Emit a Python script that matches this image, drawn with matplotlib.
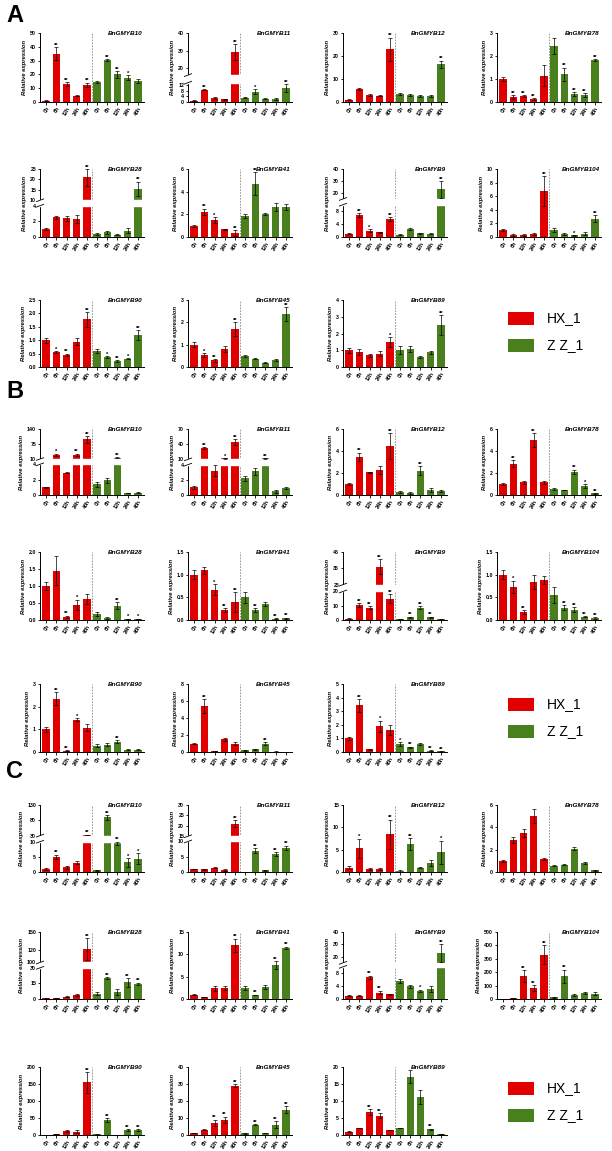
import numpy as np
import matplotlib
matplotlib.use('Agg')
import matplotlib.pyplot as plt
from matplotlib.patches import Rectangle

plt.rcParams['font.family'] = ['Liberation Sans', 'DejaVu Sans']

red = '#e00000'
green = '#4a7f1e'

times = ['0h', '6h', '12h', '24h', '48h']
genes = ['BnGMYB10', 'BnGMYB11', 'BnGMYB12', 'BnGMYB78', 'BnGMYB28', 'BnGMYB41',
         'BnGMYB9', 'BnGMYB104', 'BnGMYB90', 'BnGMYB45', 'BnGMYB89']

# ---------------- panel A ----------------
A_hx = [[1, 35, 13, 4.5, 12.5], [1, 9, 3, 2, 29], [1, 5.8, 3, 2.8, 23], [1, 0.22, 0.25, 0.12, 1.15],
        [1, 2.5, 2.4, 2.3, 21], [1, 2.2, 1.5, 0.7, 0.35], [1, 6.8, 2, 1.4, 5.5], [1, 0.3, 0.3, 0.45, 6.8],
        [1, 0.55, 0.45, 0.95, 1.78], [1, 0.55, 0.3, 0.8, 1.7], [1, 0.92, 0.7, 0.8, 1.48]]
A_hx_err = [[0.3, 4.5, 1.2, 0.5, 1.5], [0.2, 0.5, 0.5, 0.5, 4.5], [0.3, 0.5, 0.4, 0.4, 5], [0.1, 0.08, 0.05, 0.04, 0.45],
            [0.1, 0.2, 0.3, 0.5, 4], [0.1, 0.3, 0.25, 0.05, 0.25], [0.2, 0.7, 0.5, 0.2, 0.7], [0.15, 0.1, 0.1, 0.1, 2.2],
            [0.1, 0.03, 0.05, 0.12, 0.28], [0.1, 0.08, 0.06, 0.12, 0.3], [0.15, 0.18, 0.1, 0.15, 0.3]]
A_zz = [[14.5, 30.5, 20, 17.5, 15], [3.2, 7.5, 2.5, 2, 10], [3.5, 3, 2.5, 2.5, 16.5], [2.45, 1.2, 0.35, 0.3, 1.83],
        [0.35, 0.6, 0.3, 0.8, 15.5], [1.85, 4.7, 2.05, 2.65, 2.65], [0.7, 2.5, 1.1, 1, 23], [1, 0.45, 0.25, 0.5, 2.7],
        [0.6, 0.37, 0.22, 0.3, 1.2], [0.5, 0.38, 0.2, 0.3, 2.37], [1, 1.05, 0.58, 0.88, 2.5]]
A_zz_err = [[0.5, 0.8, 2.5, 1.8, 1.5], [0.5, 1.8, 0.3, 0.8, 3], [0.6, 0.3, 0.5, 0.4, 1.5], [0.35, 0.3, 0.08, 0.08, 0.03],
            [0.1, 0.2, 0.05, 0.3, 3.5], [0.2, 1.0, 0.1, 0.35, 0.3], [0.1, 0.2, 0.1, 0.1, 7], [0.3, 0.1, 0.05, 0.2, 0.5],
            [0.07, 0.05, 0.04, 0.02, 0.18], [0.05, 0.04, 0.02, 0.04, 0.3], [0.25, 0.18, 0.05, 0.08, 0.6]]
A_hx_sig = [['', '**', '**', '', '**'], ['', '**', '', '', '**'], ['', '', '', '', '**'], ['', '**', '**', '**', ''],
            ['', '', '', '', '**'], ['', '**', '*', '', '**'], ['', '**', '*', '', '**'], ['', '', '', '', '**'],
            ['', '*', '**', '', '**'], ['', '*', '**', '', '**'], ['', '', '', '', '*']]
A_zz_sig = [['', '**', '**', '*', ''], ['', '*', '', '', '**'], ['', '', '', '', '**'], ['', '**', '**', '**', '**'],
            ['', '', '', '', '**'], ['', '**', '', '', ''], ['', '', '', '', '**'], ['', '', '*', '', '**'],
            ['', '*', '**', '*', '**'], ['', '', '', '', '**'], ['', '', '', '', '**']]
A_ticks = [[0, 10, 20, 30, 40, 50], [0, 4, 8, 12, 20, 30, 40], [0, 10, 20, 30], [0, 1, 2, 3],
           [0, 2, 4, 10, 15, 20, 25], [0, 2, 4, 6], [0, 4, 8, 20, 30, 40], [0, 2, 4, 6, 8, 10],
           [0, 0.5, 1.0, 1.5, 2.0, 2.5], [0, 1, 2, 3], [0, 1, 2, 3, 4]]
# axis breaks: index -> (low end, high start, fraction low end, fraction high start)
A_breaks = {1: (14, 16, 0.28, 0.39), 4: (4, 10, 0.46, 0.54), 6: (10, 15, 0.475, 0.56)}

# ---------------- panel B ----------------
B_hx = [[1, 28, 2.9, 28, 95], [1, 32, 3.2, 12, 44], [1, 3.45, 2.05, 2.3, 4.45], [1, 2.85, 1.15, 5, 1.15],
        [1, 1.45, 0.1, 0.45, 0.62], [1, 1.1, 0.67, 0.22, 0.4], [1, 10.5, 8.5, 36, 15], [1, 0.73, 0.18, 0.84, 0.88],
        [1, 2.35, 0.05, 1.43, 1.07], [1, 5.4, 0.1, 1.5, 1.0], [1, 3.42, 0.2, 1.9, 1.6]]
B_hx_err = [[0.1, 5, 0.05, 5, 15], [0.15, 1.5, 0.7, 0.5, 6], [0.1, 0.4, 0.03, 0.35, 1.2], [0.1, 0.3, 0.15, 0.6, 0.15],
            [0.12, 0.42, 0.03, 0.15, 0.15], [0.1, 0.08, 0.12, 0.04, 0.22], [0.2, 1.2, 1, 4.5, 3], [0.1, 0.14, 0.04, 0.15, 0.09],
            [0.1, 0.28, 0.02, 0.07, 0.15], [0.1, 0.8, 0.02, 0.15, 0.2], [0.12, 0.45, 0.05, 0.4, 0.35]]
B_zz = [[1.4, 1.9, 16, 0.25, 0.3], [2.2, 3.1, 12, 0.5, 0.9], [0.3, 0.2, 2.2, 0.45, 0.35], [0.55, 0.45, 2.1, 0.8, 0.15],
        [0.18, 0.06, 0.42, 0.03, 0.03], [0.5, 0.22, 0.35, 0.03, 0.04], [0.5, 2, 8.5, 2, 0.5], [0.55, 0.27, 0.23, 0.07, 0.05],
        [0.28, 0.33, 0.45, 0.1, 0.1], [0.2, 0.3, 1.0, 0.05, 0.03], [0.6, 0.35, 0.6, 0.1, 0.05]]
B_zz_err = [[0.35, 0.35, 2, 0.05, 0.1], [0.3, 0.5, 1, 0.2, 0.15], [0.1, 0.1, 0.4, 0.15, 0.1], [0.05, 0.03, 0.2, 0.2, 0.05],
            [0.07, 0.02, 0.1, 0.01, 0.01], [0.12, 0.05, 0.05, 0.01, 0.01], [0.1, 0.4, 1, 0.4, 0.1], [0.18, 0.06, 0.05, 0.01, 0.02],
            [0.08, 0.08, 0.07, 0.02, 0.02], [0.05, 0.05, 0.2, 0.01, 0.01], [0.15, 0.05, 0.05, 0.02, 0.02]]
B_hx_sig = [['', '*', '', '**', '**'], ['', '**', '', '*', '**'], ['', '**', '', '', '**'], ['', '**', '', '**', ''],
            ['', '', '**', '*', ''], ['', '', '*', '**', '**'], ['', '**', '**', '**', '**'], ['', '*', '**', '', ''],
            ['', '**', '**', '*', ''], ['', '**', '', '', ''], ['', '**', '', '*', '']]
B_zz_sig = [['', '', '**', '', ''], ['', '', '**', '', ''], ['', '', '**', '', ''], ['', '', '**', '*', '**'],
            ['', '', '**', '*', '*'], ['', '**', '', '**', '**'], ['', '**', '**', '**', ''], ['', '**', '**', '**', '**'],
            ['', '', '**', '', ''], ['', '', '**', '', ''], ['*', '**', '', '**', '**']]
B_ticks = [[0, 2, 4, 10, 75, 140], [0, 2, 4, 10, 40, 70], [0, 2, 4, 6], [0, 2, 4, 6],
           [0, 0.5, 1.0, 1.5, 2.0], [0, 0.5, 1.0, 1.5], [0, 10, 20, 25, 35, 45], [0, 0.5, 1.0, 1.5],
           [0, 1, 2, 3], [0, 2, 4, 6, 8], [0, 1, 2, 3, 4, 5]]
B_breaks = {0: (4, 10, 0.465, 0.545), 1: (4, 10, 0.46, 0.54), 6: (20, 25, 0.42, 0.52)}

# ---------------- panel C ----------------
C_hx = [[1, 5, 1.5, 3.1, 32], [1, 0.9, 1.4, 0.6, 21], [1, 5.3, 0.6, 0.7, 8.4], [1, 2.85, 3.5, 5, 1.15],
        [0.5, 0.7, 2, 4, 122], [1, 0.4, 2.4, 2.5, 12], [1, 1, 6.8, 2, 1.4], [1, 5, 172, 83, 330],
        [0.5, 3, 11, 10, 155], [1, 3.1, 7.2, 8.8, 29], [1, 2.1, 6.8, 5.7, 1.5]]
C_hx_err = [[0.2, 0.7, 0.4, 0.5, 1], [0.1, 0.1, 0.1, 0.3, 1.8], [0.3, 2.2, 0.2, 0.3, 3.3], [0.1, 0.25, 0.35, 0.6, 0.12],
            [0.2, 0.2, 0.5, 0.8, 18], [0.1, 0.05, 0.5, 0.5, 1.5], [0.2, 0.1, 0.5, 0.6, 0.1], [0.5, 2, 45, 20, 70],
            [0.2, 1, 3, 4, 30], [0.1, 0.4, 1.8, 2, 1], [0.1, 0.1, 0.8, 0.7, 0.1]]
C_zz = [[0.5, 90, 9.5, 3.2, 4.4], [0.05, 7, 0.5, 5.9, 7.9], [0.3, 6.3, 1, 2, 4.4], [0.55, 0.65, 2.1, 0.8, 0.15],
        [5, 20, 6.5, 16, 14.5], [2.4, 0.9, 2.7, 7.6, 11.4], [5.6, 4, 2.6, 3.2, 23], [12, 170, 30, 45, 40],
        [1.5, 43, 1, 15, 15], [0.9, 6.1, 1.1, 6.1, 15], [2.1, 17.2, 11.2, 1.7, 0.2]]
C_zz_err = [[0.1, 8, 0.5, 1.5, 1.8], [0, 0.7, 0.1, 0.5, 0.7], [0.2, 1.3, 0.05, 0.7, 2.6], [0.05, 0.06, 0.15, 0.12, 0.05],
            [1.5, 1, 3, 4, 1.2], [0.4, 0.1, 0.4, 0.8, 0.3], [0.7, 0.5, 0.3, 0.9, 7], [3, 50, 8, 10, 10],
            [0.3, 6, 0.2, 3, 3], [0.2, 0.5, 0.2, 2, 2.2], [0.1, 1.8, 2, 0.2, 0.05]]
C_hx_sig = [['', '**', '', '', '**'], ['', '', '', '', '**'], ['', '*', '', '', '**'], ['', '', '', '', ''],
            ['', '', '', '', '**'], ['', '', '', '', '**'], ['', '', '**', '**', ''], ['', '', '**', '**', '**'],
            ['', '', '', '', '**'], ['', '', '**', '**', '**'], ['', '', '**', '**', '']]
C_zz_sig = [['', '**', '**', '*', '*'], ['', '**', '', '**', '**'], ['', '**', '', '', '*'], ['', '', '', '', ''],
            ['', '**', '', '**', '**'], ['', '**', '', '**', '**'], ['', '', '*', '', '**'], ['', '**', '', '', ''],
            ['', '**', '', '**', '**'], ['', '**', '', '**', '**'], ['', '', '', '**', '']]
C_ticks = [[0, 5, 10, 30, 80, 130], [0, 5, 10, 15, 20, 25, 30], [0, 5, 10, 15], [0, 2, 4, 6],
           [0, 15, 30, 100, 120, 150], [0, 5, 10, 15], [0, 4, 8, 20, 30, 40], [0, 100, 200, 300, 400, 500],
           [0, 50, 100, 150, 200], [0, 10, 20, 30, 40], [0, 5, 10, 15, 20]]
C_breaks = {0: (10, 30, 0.452, 0.543), 1: (10, 15, 0.456, 0.534), 4: (30, 100, 0.465, 0.545), 6: (10, 15, 0.48, 0.54)}

# ---------------- layout (pixels) ----------------
W, H = 612, 1151
col_left = [40, 188, 343, 497]
col_width = 104
row_span = {'A': [(33, 102), (169, 237), (300, 367)],
            'B': [(429, 495), (552, 620), (684, 752)],
            'C': [(805, 872), (932, 999), (1067, 1135)]}
label_y = {'A': 15, 'B': 391, 'C': 771}
legend_y = {'A': 312, 'B': 698, 'C': 1082}


def piecewise(xp, fp):
    xp = np.asarray(xp, float)
    fp = np.asarray(fp, float)

    def f(v):
        v = np.asarray(v, dtype=float)
        out = np.interp(v, xp, fp)
        lo_slope = (fp[1] - fp[0]) / (xp[1] - xp[0])
        hi_slope = (fp[-1] - fp[-2]) / (xp[-1] - xp[-2])
        out = np.where(v < xp[0], fp[0] + (v - xp[0]) * lo_slope, out)
        out = np.where(v > xp[-1], fp[-1] + (v - xp[-1]) * hi_slope, out)
        return out
    return f


def draw_gene(ax, gene, hx, hx_err, zz, zz_err, hx_sig, zz_sig, ticks, brk):
    top = ticks[-1]
    if brk is not None:
        b1, b2, f1, f2 = brk
        xp, fp = [0, b1, b2, top], [0, f1, f2, 1]
        ax.set_yscale('function', functions=(piecewise(xp, fp), piecewise(fp, xp)))
    x = np.arange(10)
    vals = list(hx) + list(zz)
    errs = list(hx_err) + list(zz_err)
    sigs = list(hx_sig) + list(zz_sig)
    colors = [red] * 5 + [green] * 5
    ax.bar(x, vals, width=0.72, color=colors, zorder=2)
    ax.errorbar(x, vals, yerr=errs, fmt='none', ecolor='black', elinewidth=0.5,
                capsize=1.2, capthick=0.5, zorder=4)
    for xi, v, e, s in zip(x, vals, errs, sigs):
        if s:
            ax.annotate(s, (xi, v + e), xytext=(0, -0.5), textcoords='offset points',
                        ha='center', va='bottom', fontsize=4.2, fontweight='bold', zorder=5)
    ax.axvline(4.5, color='#888888', lw=0.6, ls=(0, (2, 1.5)), zorder=1)
    ax.set_xlim(-0.6, 9.6)
    ax.set_ylim(0, top)
    ax.set_yticks(ticks)
    if any(t != int(t) for t in ticks):
        ax.set_yticklabels([f'{t:.1f}' for t in ticks])
    else:
        ax.set_yticklabels([str(int(t)) for t in ticks])
    ax.set_xticks(x)
    ax.set_xticklabels(times * 2, rotation=60, ha='right', rotation_mode='anchor')
    ax.tick_params(axis='both', labelsize=3.8, width=0.6, length=1.8, pad=1)
    for lab in ax.get_xticklabels() + ax.get_yticklabels():
        lab.set_fontweight('bold')
    for side in ['top', 'right']:
        ax.spines[side].set_visible(False)
    for side in ['left', 'bottom']:
        ax.spines[side].set_linewidth(0.7)
    ax.set_ylabel('Relative expression', fontsize=4.2, fontweight='bold', style='italic', labelpad=2)
    ax.text(0.99, 0.99, gene, transform=ax.transAxes, ha='right', va='center',
            fontsize=4.6, fontweight='bold', style='italic')
    if brk is not None:
        b1, b2, f1, f2 = brk
        ax.axhspan(b1, b2, xmin=-0.03, xmax=1.0, color='white', zorder=3, clip_on=False)
        for fy in (f1, f2):
            ax.plot([-0.035, 0.035], [fy - 0.02, fy + 0.02], transform=ax.transAxes,
                    color='black', lw=0.6, clip_on=False, zorder=6)


fig = plt.figure(figsize=(W / 100, H / 100), dpi=100)

panels = {
    'A': (A_hx, A_hx_err, A_zz, A_zz_err, A_hx_sig, A_zz_sig, A_ticks, A_breaks),
    'B': (B_hx, B_hx_err, B_zz, B_zz_err, B_hx_sig, B_zz_sig, B_ticks, B_breaks),
    'C': (C_hx, C_hx_err, C_zz, C_zz_err, C_hx_sig, C_zz_sig, C_ticks, C_breaks),
}

for name, (hx, hxe, zz, zze, hxs, zzs, ticks, breaks) in panels.items():
    fig.text(6 / W, 1 - label_y[name] / H, name, fontsize=17, fontweight='bold', va='center', ha='left')
    for i, gene in enumerate(genes):
        r, c = divmod(i, 4)
        top_px, bot_px = row_span[name][r]
        ax = fig.add_axes([col_left[c] / W, 1 - bot_px / H, col_width / W, (bot_px - top_px) / H])
        draw_gene(ax, gene, hx[i], hxe[i], zz[i], zze[i], hxs[i], zzs[i], ticks[i], breaks.get(i))
    # legend
    ly = legend_y[name]
    for k, (lab, col) in enumerate([('HX_1', red), ('Z Z_1', green)]):
        y0 = ly + k * 27
        fig.add_artist(Rectangle((508 / W, 1 - (y0 + 13) / H), 26 / W, 13 / H,
                                 transform=fig.transFigure, facecolor=col, edgecolor='none'))
        fig.text(547 / W, 1 - (y0 + 6.5) / H, lab, fontsize=10, va='center', ha='left')

fig.savefig('out.png', dpi=100)
